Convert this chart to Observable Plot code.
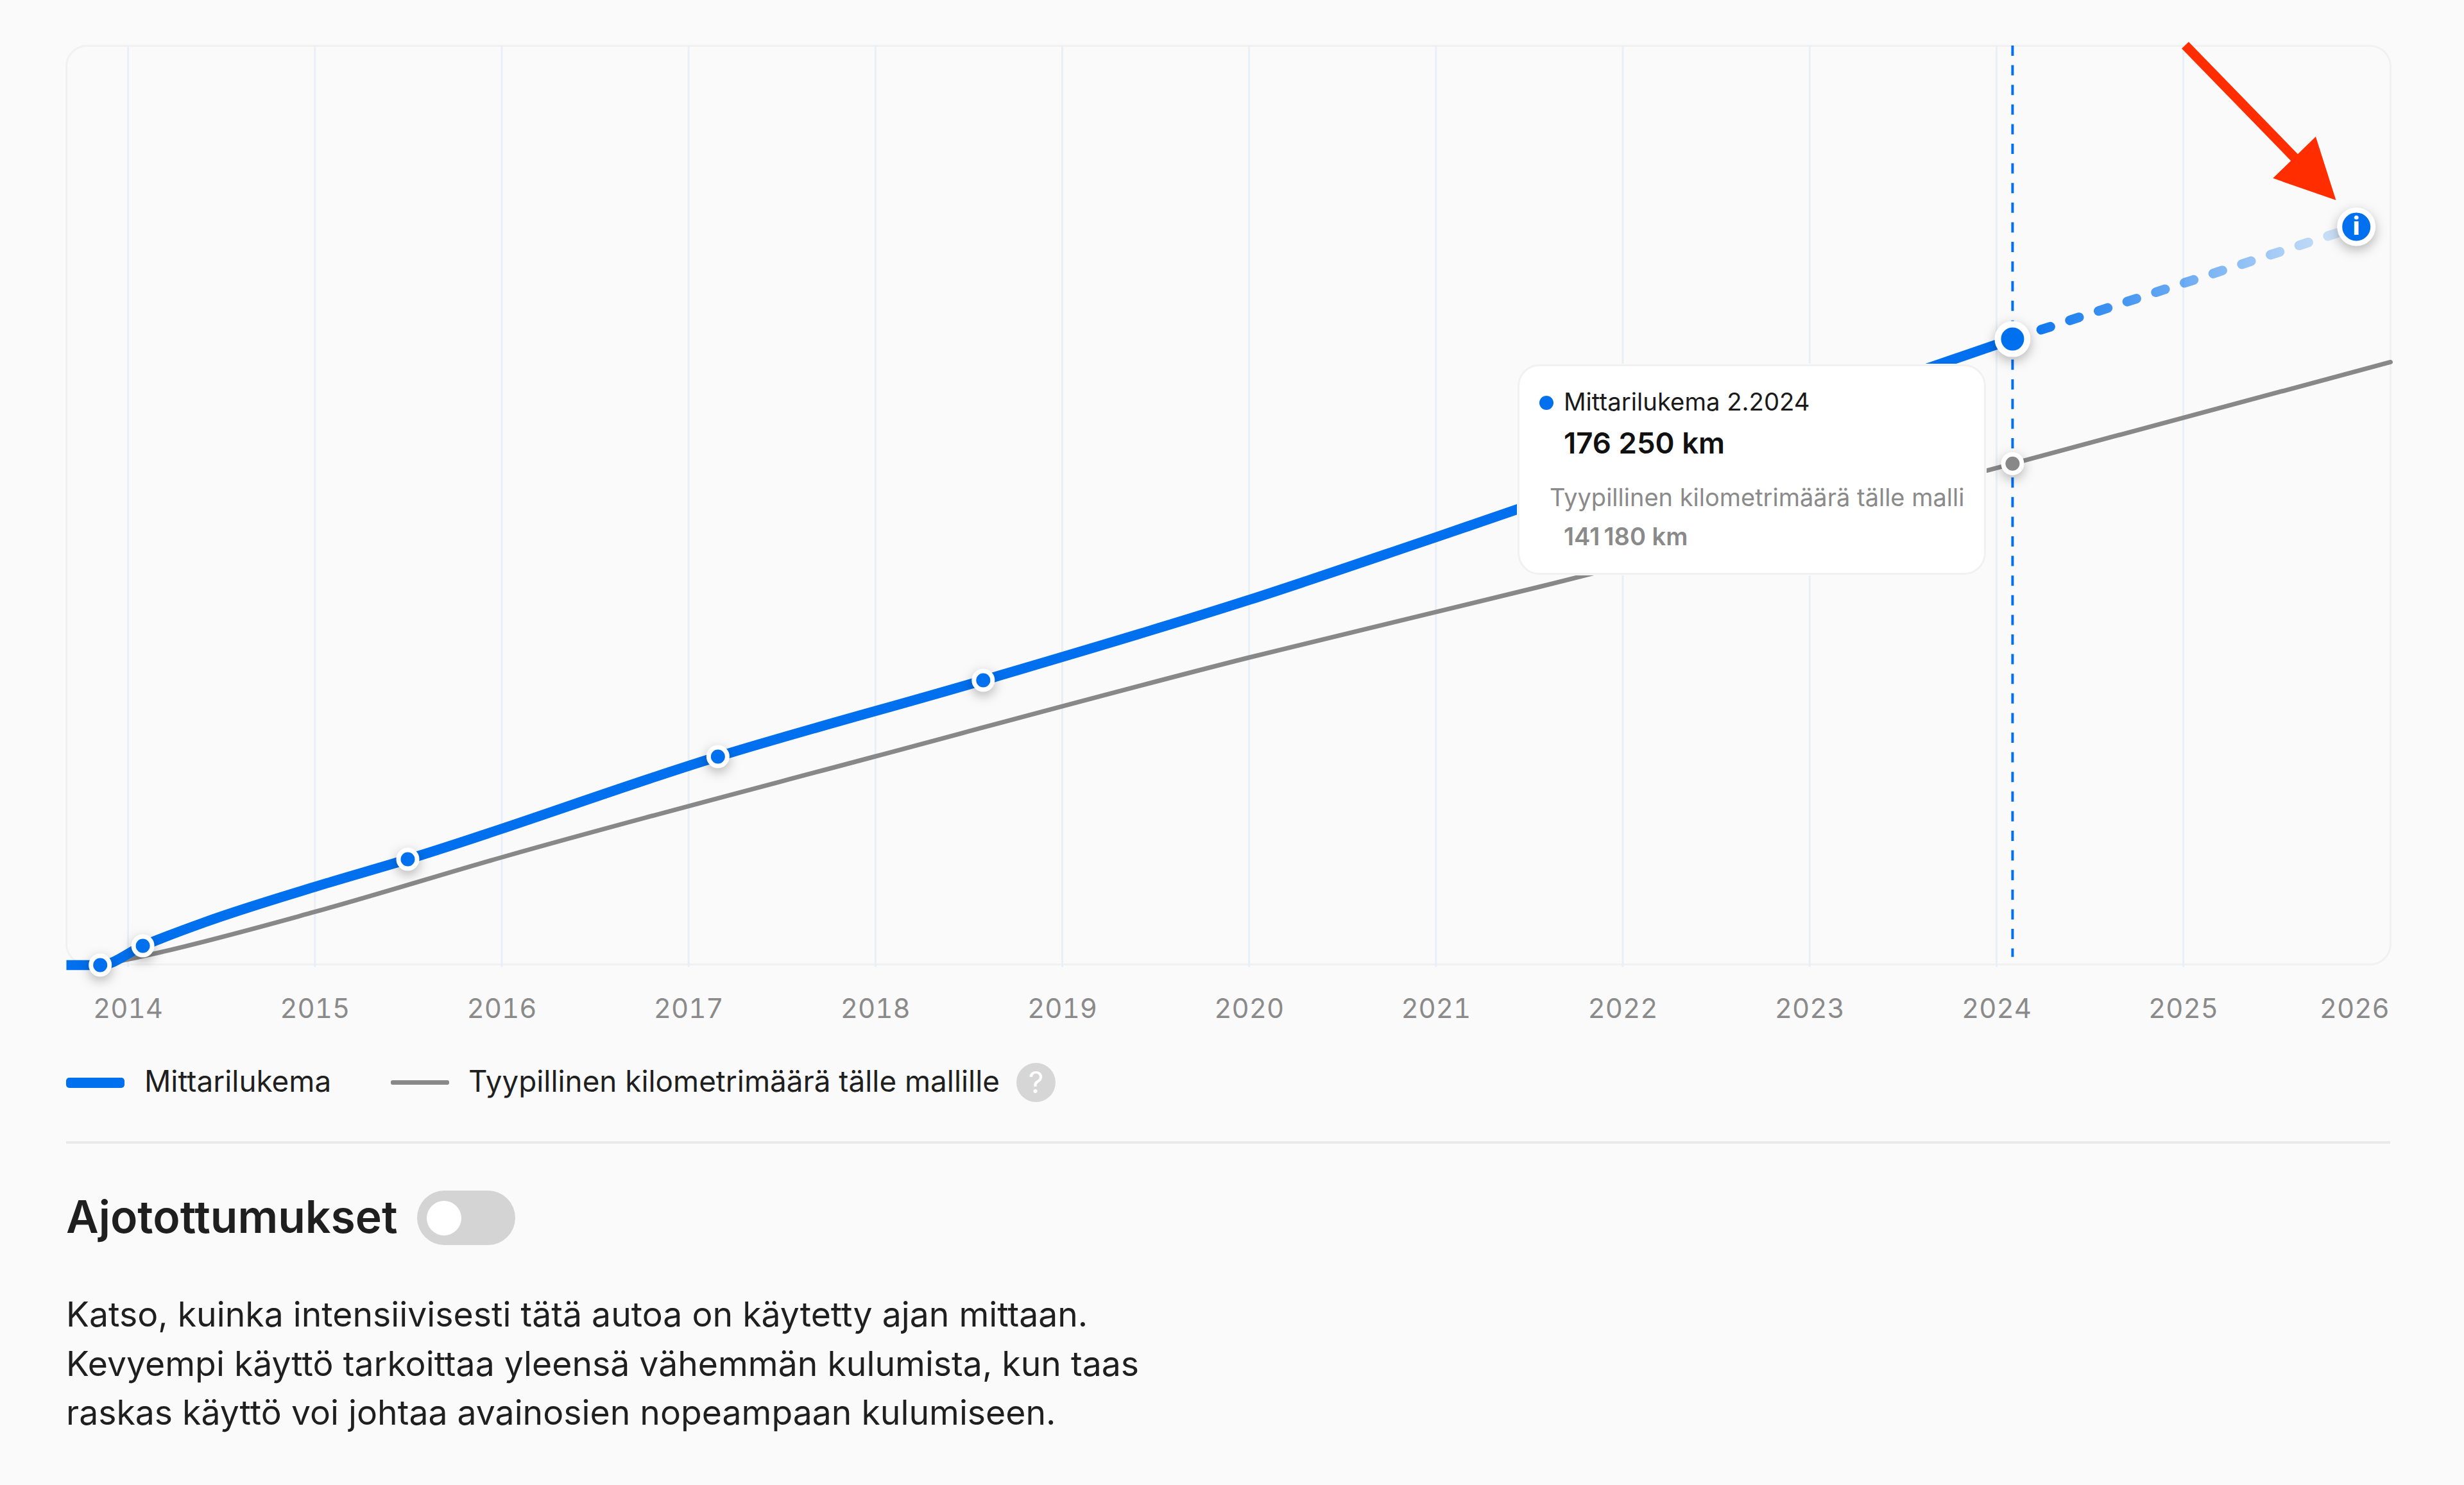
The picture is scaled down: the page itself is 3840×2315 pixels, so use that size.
<!DOCTYPE html>
<html lang="fi">
<head>
<meta charset="utf-8">
<script src="https://cdn.jsdelivr.net/npm/d3@7"></script>
<script src="https://cdn.jsdelivr.net/npm/@observablehq/plot@0.6"></script>
<style>
html,body{margin:0;padding:0;background:#fafafa;font-family:Inter,"Noto Sans",sans-serif;}
#page{position:relative;width:3840px;height:2315px;overflow:hidden;}
#chart{position:absolute;left:0;top:0;}
#chart svg{display:block;background:transparent;}
.abs{position:absolute;white-space:nowrap;line-height:1;}
#tip{position:absolute;left:2365px;top:568px;width:730px;height:328px;box-sizing:border-box;background:#fff;border:3px solid #f1f1f1;border-radius:34px;box-shadow:0 0 0 1px #fafafa;}
#tipdot{position:absolute;left:2399px;top:617px;width:22px;height:22px;border-radius:50%;background:#0070ee;}
.sw{position:absolute;border-radius:5px;}
</style>
</head>
<body>
<div id="page">
  <div id="chart"></div>

  <div id="tip"></div>
  <div id="tipdot"></div>
  <div class="abs" id="tipTitle" style="left:2437px;top:607px;font-size:38.3px;color:#1a1a1a;"></div>
  <div class="abs" id="tipValue" style="left:2437px;top:668px;font-size:45.6px;font-weight:600;color:#111;"></div>
  <div class="abs" id="tipTypical" style="left:2415px;top:756px;font-size:38px;color:#8a8a8a;"></div>
  <div class="abs" id="tipTypicalValue" style="left:2437px;top:817px;font-size:38px;font-weight:600;color:#8a8a8a;"></div>

  <div class="sw" style="left:103px;top:1680px;width:91px;height:16px;background:#0070ee;"></div>
  <div class="abs" id="leg1" style="left:225px;top:1663px;font-size:45.8px;color:#1f1f1f;"></div>
  <div class="sw" style="left:609px;top:1684px;width:91px;height:7px;background:#888;border-radius:3px;"></div>
  <div class="abs" id="leg2" style="left:730px;top:1663px;font-size:45.8px;color:#1f1f1f;"></div>
  <div class="abs" style="left:1584px;top:1657px;width:61px;height:61px;border-radius:50%;background:#d6d6d6;color:#fff;font-size:46px;line-height:61px;text-align:center;">?</div>

  <div style="position:absolute;left:103px;top:1779px;width:3622px;height:4px;background:#e9e9e9;"></div>

  <div class="abs" id="heading" style="left:103px;top:1862px;font-size:69.7px;font-weight:600;color:#1f1f1f;"></div>
  <div style="position:absolute;left:650px;top:1856px;width:153px;height:85px;border-radius:43px;background:#d4d4d4;"></div>
  <div style="position:absolute;left:665px;top:1872px;width:54px;height:54px;border-radius:50%;background:#fff;"></div>

  <div class="abs" id="para" style="left:103px;top:2011px;font-size:53.5px;line-height:76.5px;color:#1f1f1f;white-space:pre;"></div>
</div>

<script>
// x axis
const tickYears = [2014,2015,2016,2017,2018,2019,2020,2021,2022,2023,2024,2025];
const lastTickYear = [2026];
const xDomain = [2013.67, 2026.109];
const yDomain = [0, 258800];

// odometer reading (km)
const blueYear = [2013.67,2013.851,2014.079,2014.412,2015.0,2015.497,2017.157,2018.577,2019.997,2021.0,2024.086];
const blueKm   = [0,0,5418,12100,22034,29800,58696,80188,102763,120463,176250];

// projection after the last reading
const projYear = [2024.086,2025.926];
const projKm   = [176250,207874];

// typical mileage for the model (km)
const grayYear = [2013.851,2014.127,2015.0,2016.0,2017.995,2020.0,2021.558,2024.086,2026.109];
const grayKm   = [0,3070,14990,30341,58696,86600,106556,141180,169767];

// service readings
const readingYear = [2013.851,2014.079,2015.497,2017.157,2018.577];
const readingKm   = [0,5418,29800,58696,80188];

// current reading
const currentYear = 2024.086;
const currentKm = 176250;
const typicalKm = 141180;

// arrow annotation tail
const arrowYear = 2025.01;
const arrowKm = 258980;

// texts
const tipTitleText = "Mittarilukema 2.2024";
const tipValueText = "176 250 km";
const tipTypicalText = "Tyypillinen kilometrimäärä tälle malli";
const tipTypicalValueText = "141\u202F180 km";
const legendBlue = "Mittarilukema";
const legendGray = "Tyypillinen kilometrimäärä tälle mallille";
const headingText = "Ajotottumukset";
const paragraphLines = [
  "Katso, kuinka intensiivisesti tätä autoa on käytetty ajan mittaan.",
  "Kevyempi käyttö tarkoittaa yleensä vähemmän kulumista, kun taas",
  "raskas käyttö voi johtaa avainosien nopeampaan kulumiseen."
];

const zip = (xs, ys) => xs.map((x, i) => ({x, y: ys[i]}));
const BLUE = "#0070ee", GRAY = "#888888";
const shadow = "drop-shadow(0 6px 9px rgba(0,0,0,0.28))";

const arrowShape = {
  draw(c, l) {
    const w = 7.5, hw = 46.5, hl = 93;
    c.moveTo(-w, 0); c.lineTo(w, 0); c.lineTo(w, -(l - hl)); c.lineTo(hw, -(l - hl));
    c.lineTo(0, -l); c.lineTo(-hw, -(l - hl)); c.lineTo(-w, -(l - hl)); c.closePath();
  }
};

const gradientDefs = () => {
  const defs = d3.create("svg:defs");
  const g = defs.append("linearGradient").attr("id", "fade");
  g.append("stop").attr("offset", "0%").attr("stop-color", BLUE).attr("stop-opacity", 1);
  g.append("stop").attr("offset", "100%").attr("stop-color", BLUE).attr("stop-opacity", 0.13);
  return defs.node();
};

const chart = Plot.plot({
  width: 3840,
  height: 1640,
  marginLeft: 103,
  marginRight: 115,
  marginTop: 71,
  marginBottom: 137,
  style: {background: "transparent", fontFamily: "Inter", fontSize: "42px"},
  x: {domain: xDomain},
  y: {domain: yDomain, range: [1504, 71], axis: null},
  marks: [
    gradientDefs,
    Plot.frame({stroke: "#f1f1f1", strokeWidth: 3, rx: 32, fill: "#fafafa"}),
    Plot.ruleX(tickYears, {y1: yDomain[1], y2: -640, stroke: "#e9eff7", strokeWidth: 3}),
    Plot.axisX(tickYears, {anchor: "bottom", tickSize: 0, tickPadding: 54, tickFormat: "d", label: null, fill: "#8a8a8a", fontSize: 42}),
    Plot.axisX(lastTickYear, {anchor: "bottom", tickSize: 0, tickPadding: 54, tickFormat: "d", label: null, fill: "#8a8a8a", fontSize: 42, textAnchor: "end", dx: 30}),
    Plot.ruleX([currentYear], {y1: yDomain[1], y2: 2200, stroke: BLUE, strokeWidth: 4, strokeDasharray: "16 14.6"}),
    Plot.line(zip(grayYear, grayKm), {x: "x", y: "y", stroke: GRAY, strokeWidth: 7, curve: "monotone-x"}),
    Plot.line(zip(projYear, projKm), {x: "x", y: "y", stroke: "url(#fade)", strokeWidth: 15, strokeDasharray: "15 32", strokeLinecap: "round"}),
    Plot.line(zip(blueYear, blueKm), {x: "x", y: "y", stroke: BLUE, strokeWidth: 15.5, curve: "monotone-x", strokeLinecap: "butt"}),
    Plot.dot(zip(readingYear, readingKm), {x: "x", y: "y", r: 14.5, fill: BLUE, stroke: "#fff", strokeWidth: 7, imageFilter: shadow}),
    Plot.dot([{x: currentYear, y: typicalKm}], {x: "x", y: "y", r: 14.5, fill: GRAY, stroke: "#fff", strokeWidth: 7, imageFilter: shadow}),
    Plot.dot([{x: currentYear, y: currentKm}], {x: "x", y: "y", r: 23, fill: BLUE, stroke: "#fff", strokeWidth: 10, imageFilter: shadow}),
    Plot.dot([{x: projYear[1], y: projKm[1]}], {x: "x", y: "y", r: 26, fill: BLUE, stroke: "#fff", strokeWidth: 8, imageFilter: shadow}),
    Plot.text([{x: projYear[1], y: projKm[1]}], {x: "x", y: "y", text: () => "i", fill: "#fff", fontSize: 38, fontWeight: 800, fontFamily: "Inter"}),
    Plot.vector([{x: arrowYear, y: arrowKm}], {x: "x", y: "y", length: 337, rotate: 135.8, anchor: "start", shape: arrowShape, fill: "#ff2d00", stroke: "none"})
  ]
});
document.getElementById("chart").append(chart);

document.getElementById("tipTitle").textContent = tipTitleText;
document.getElementById("tipValue").textContent = tipValueText;
document.getElementById("tipTypical").textContent = tipTypicalText;
document.getElementById("tipTypicalValue").textContent = tipTypicalValueText;
document.getElementById("leg1").textContent = legendBlue;
document.getElementById("leg2").textContent = legendGray;
document.getElementById("heading").textContent = headingText;
document.getElementById("para").textContent = paragraphLines.join("\n");
</script>
</body>
</html>
